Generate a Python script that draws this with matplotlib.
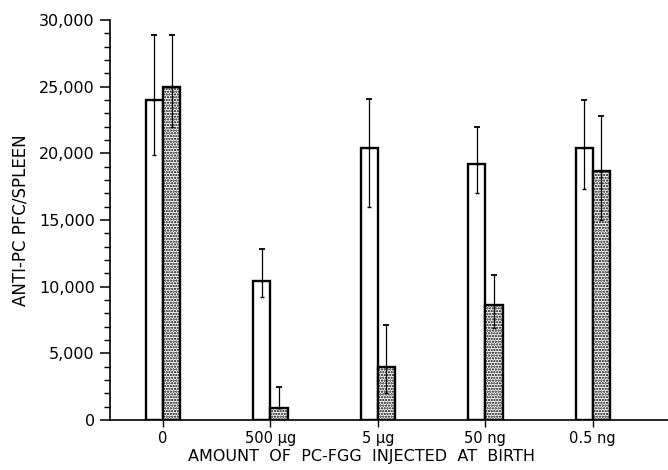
import matplotlib
matplotlib.use("Agg")
import matplotlib.pyplot as plt
import numpy as np
from matplotlib.ticker import MultipleLocator, FuncFormatter

categories = ["0", "500 \u03bcg", "5 \u03bcg", "50 ng", "0.5 ng"]

# open bars
open_vals = [24000, 10400, 20400, 19200, 20400]
open_hi = [28900, 12800, 24100, 22000, 24000]
open_lo = [19900, 9200, 16000, 17000, 17300]

# stippled bars
dot_vals = [25000, 900, 4000, 8600, 18700]
dot_hi = [28900, 2500, 7100, 10900, 22800]
dot_lo = [22000, 900, 2000, 6900, 15000]

plt.rcParams['font.family'] = ['DejaVu Sans']
plt.rcParams['hatch.linewidth'] = 1.1

fig = plt.figure(figsize=(6.68, 4.70), dpi=100)
ax = fig.add_axes([0.1647, 0.1064, 0.8353, 0.8510])

x = np.arange(len(categories))
w = 0.16


def draw(xpos, vals, hi, lo, hatch):
    vals = np.array(vals)
    ax.bar(xpos, vals, width=w, color="white", edgecolor="black",
           linewidth=1.7, hatch=hatch, zorder=2)
    # upper whisker with cap
    ax.errorbar(xpos, vals, yerr=[np.zeros(len(vals)), np.array(hi) - vals],
                fmt="none", ecolor="black", elinewidth=0.9, capsize=2.5,
                capthick=1.3, zorder=3)
    # lower whisker, only a tiny tip
    ax.errorbar(xpos, vals, yerr=[vals - np.array(lo), np.zeros(len(vals))],
                fmt="none", ecolor="black", elinewidth=0.9, capsize=1.2,
                capthick=1.0, zorder=3)


draw(x - w / 2, open_vals, open_hi, open_lo, None)
draw(x + w / 2, dot_vals, dot_hi, dot_lo, "......")

ax.set_xlim(-0.493, 4.70)
ax.set_ylim(0, 30000)
ax.spines["top"].set_visible(False)
ax.spines["right"].set_visible(False)
ax.spines["left"].set_linewidth(1.2)
ax.spines["bottom"].set_linewidth(1.2)

ax.yaxis.set_major_locator(MultipleLocator(5000))
ax.yaxis.set_minor_locator(MultipleLocator(1000))
ax.yaxis.set_major_formatter(FuncFormatter(lambda v, p: f"{int(v):,}"))
ax.tick_params(axis="y", which="major", length=7, width=1.1, labelsize=11.5, pad=4)
ax.tick_params(axis="y", which="minor", length=4, width=1.0)
ax.set_xticks(x)
ax.set_xticklabels(categories)
ax.tick_params(axis="x", length=5, width=1.0, labelsize=10.5, pad=3)

ax.set_ylabel("ANTI-PC PFC/SPLEEN", fontsize=12)
ax.yaxis.set_label_coords(-0.145, 0.5)
ax.set_xlabel("AMOUNT  OF  PC-FGG  INJECTED  AT  BIRTH", fontsize=11.5)
ax.xaxis.set_label_coords(0.45, -0.073)

fig.savefig("out.png", dpi=100)
